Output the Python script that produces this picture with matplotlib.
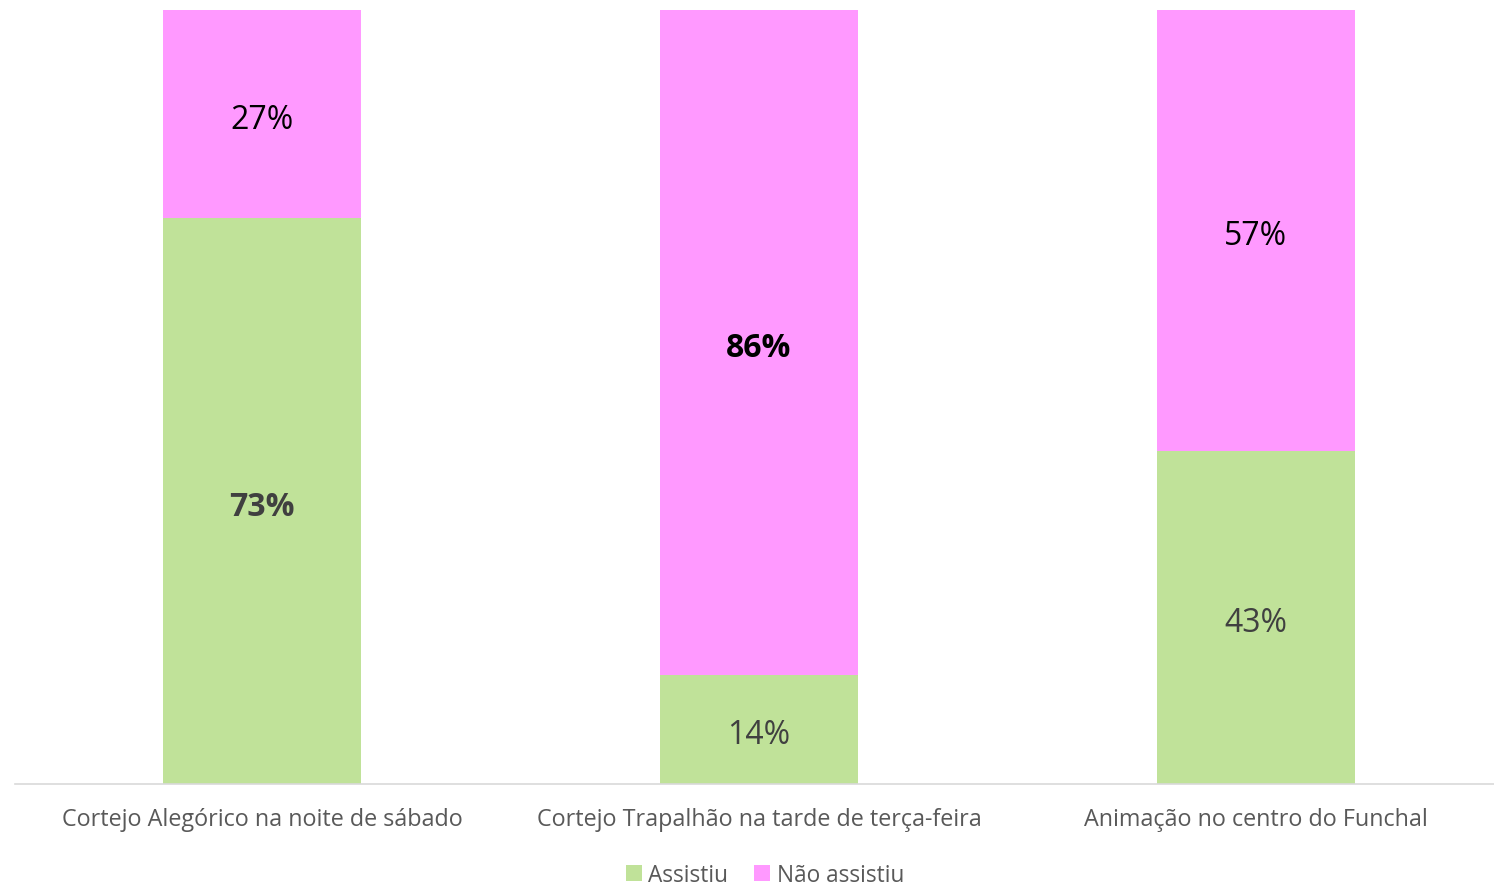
import matplotlib.pyplot as plt

# Categories and shares (percent)
categories = ['Cortejo Alegórico na noite de sábado',
              'Cortejo Trapalhão na tarde de terça-feira',
              'Animação no centro do Funchal']
assistiu = [73, 14, 43]
nao_assistiu = [27, 86, 57]
series_names = ['Assistiu', 'Não assistiu']

# label styles per bar (weight, colour) as in the original
assistiu_style = [('bold', '#404040'), ('normal', '#404040'), ('normal', '#404040')]
nao_style = [('normal', '#000000'), ('bold', '#000000'), ('normal', '#000000')]

green = '#C0E299'
pink = '#FF99FF'

plt.rcParams['font.family'] = ['Open Sans', 'DejaVu Sans']

fig = plt.figure(figsize=(14.94, 8.87), dpi=100)
ax = fig.add_axes([15 / 1494, 102.5 / 887, 1479 / 1494, 774 / 887])

x = list(range(len(categories)))
b1 = ax.bar(x, assistiu, width=0.4, color=green, label=series_names[0])
b2 = ax.bar(x, nao_assistiu, width=0.4, bottom=assistiu, color=pink, label=series_names[1])

for i in x:
    w, c = assistiu_style[i]
    ax.annotate(f'{assistiu[i]}%', (i, assistiu[i] / 2), xytext=(0, -4),
                textcoords='offset points', ha='center', va='center',
                fontsize=23, fontweight=w, color=c)
    w, c = nao_style[i]
    ax.annotate(f'{nao_assistiu[i]}%', (i, assistiu[i] + nao_assistiu[i] / 2),
                xytext=(0, -4), textcoords='offset points', ha='center',
                va='center', fontsize=23, fontweight=w, color=c)

ax.set_xlim((15 - 262) / 497, (1494 - 262) / 497)
ax.set_ylim(0, 100)
ax.set_xticks(x)
ax.set_xticklabels(categories, fontsize=16.8, color='#595959')
ax.tick_params(axis='x', length=0, pad=17)
ax.set_yticks([])
for s in ['top', 'right', 'left']:
    ax.spines[s].set_visible(False)
ax.spines['bottom'].set_color('#D9D9D9')
ax.spines['bottom'].set_linewidth(1.2)

leg = fig.legend(handles=[b1, b2], labels=series_names, loc='center',
                 bbox_to_anchor=(765 / 1494, 1 - 876 / 887), ncol=2, frameon=False,
                 fontsize=16.3, handlelength=0.7, handleheight=0.7, handletextpad=0.3,
                 columnspacing=1.15)
for t in leg.get_texts():
    t.set_color('#595959')

fig.savefig('out.png', dpi=100)
